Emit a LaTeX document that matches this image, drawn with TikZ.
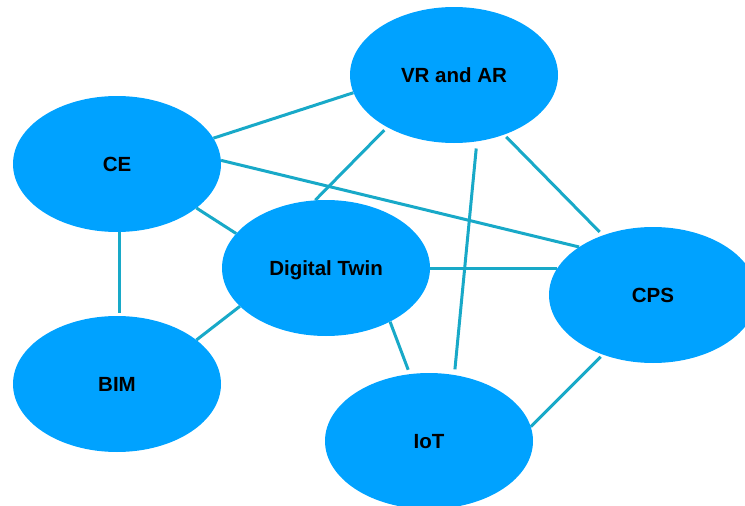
\documentclass[tikz,border=0pt]{standalone}
\usepackage{fontspec}
\setmainfont{Liberation Sans}
\usetikzlibrary{shapes.geometric,backgrounds}
\definecolor{bubble}{HTML}{00A2FF}
\definecolor{link}{HTML}{18A9C8}
\tikzset{
  bubble/.style={ellipse, fill=bubble, minimum width=208pt, minimum height=136pt, inner sep=0pt,
    font=\fontsize{20.5}{24}\selectfont\bfseries, text=black, text height=14.7pt, text depth=0pt},
  link/.style={draw=link, line width=3pt}
}
\begin{document}
\begin{tikzpicture}[x=1pt,y=-1pt]
\useasboundingbox (0,0) rectangle (745,506);
\clip (0,0) rectangle (745,506);
\node[bubble] (vr)  at (454,75)  {VR and AR};
\node[bubble] (ce)  at (117,164) {CE};
\node[bubble] (dt)  at (326,268) {Digital Twin};
\node[bubble] (cps) at (653,295) {CPS};
\node[bubble] (bim) at (117,384) {BIM};
\node[bubble] (iot) at (429,441) {IoT};
\begin{scope}[on background layer]
\draw[link] (ce.15.4) -- (vr.190.6);
\draw[link] (ce.2.75) -- (cps.147.6);
\draw[link] (ce.-29.4) -- (dt.159.4);
\draw[link, shorten <=-2pt, shorten >=3pt] (ce.-88.5) -- (bim.88.5);
\draw[link, shorten <=4pt] (vr.-142.7) -- (dt.99);
\draw[link, shorten <=7pt, shorten >=5.5pt] (vr.-71.4) -- (iot.69.2);
\draw[link, shorten <=3pt, shorten >=4.5pt] (vr.-50) -- (cps.130);
\draw[link] (dt.0) -- (cps.165 |- dt.0);
\draw[link] (dt.204.8) -- (bim.29.9);
\draw[link, shorten >=4.5pt] (dt.-40.5) -- (iot.106.5);
\draw[link, shorten <=3pt] (cps.230) -- (iot.8.3);
\end{scope}
\end{tikzpicture}
\end{document}
